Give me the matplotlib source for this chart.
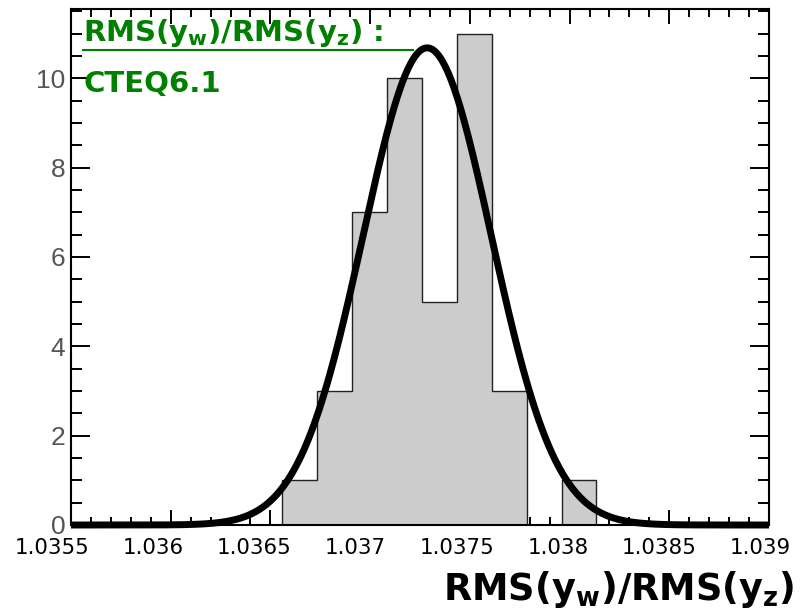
import matplotlib
matplotlib.use('Agg')
import matplotlib.pyplot as plt
import matplotlib.transforms as mtransforms
from matplotlib.ticker import MultipleLocator
import numpy as np

# histogram of the ratio
bin_edges = [1.03656, 1.036735, 1.03691, 1.037085, 1.03726, 1.037435,
             1.03761, 1.037785, 1.03796, 1.038135]
counts = [1, 3, 7, 10, 5, 11, 3, 0, 1]

# gaussian fit: amplitude, mean, sigma
fit_amp = 10.68
fit_mean = 1.037286
fit_sigma = 0.0003215

x_ticks = [1.0355, 1.036, 1.0365, 1.037, 1.0375, 1.038, 1.0385, 1.039]
x_ticklabels = ['1.0355', '1.036', '1.0365', '1.037', '1.0375', '1.038', '1.0385', '1.039']
y_ticks = [0, 2, 4, 6, 8, 10]

fig = plt.figure(figsize=(8.04, 6.12), dpi=100)
ax = fig.add_axes([71/804, 1 - 525/612, 698/804, 516/612])

# filled histogram + step outline (ROOT style)
ax.stairs(counts, bin_edges, fill=True, color='#cccccc', zorder=2)
ax.stairs(counts, bin_edges, baseline=0, color='#222222', lw=1.0, zorder=2.2)

xs = np.linspace(1.0355, 1.039, 600)
ax.plot(xs, fit_amp * np.exp(-0.5 * ((xs - fit_mean) / fit_sigma) ** 2),
        color='black', lw=5, solid_capstyle='butt', zorder=3, clip_on=False)

ax.set_xlim(1.0355, 1.039)
ax.set_ylim(0, 11.55)

ax.set_xticks(x_ticks)
ax.set_xticklabels(x_ticklabels)
ax.xaxis.set_minor_locator(MultipleLocator(0.0001))
ax.set_yticks(y_ticks)
ax.yaxis.set_minor_locator(MultipleLocator(0.5))

ax.tick_params(axis='x', which='both', direction='in', top=True, bottom=True,
               width=1.4, labelsize=15.4, pad=9, colors='black')
ax.tick_params(axis='x', which='major', length=11)
ax.tick_params(axis='x', which='minor', length=5.5)
ax.tick_params(axis='y', which='both', direction='in', left=True, right=True,
               width=1.4, pad=4, labelsize=19, labelcolor='#555555')
ax.tick_params(axis='y', which='major', length=13.7)
ax.tick_params(axis='y', which='minor', length=7.7)
for lab in ax.get_yticklabels():
    lab.set_family(['Liberation Sans', 'DejaVu Sans'])

# ROOT-like shifted x labels
for i, lab in enumerate(ax.get_xticklabels()):
    off = (-19 + 1.45 * i) / 100
    lab.set_transform(lab.get_transform() + mtransforms.ScaledTranslation(off, 0, fig.dpi_scale_trans))

for sp in ax.spines.values():
    sp.set_linewidth(1.5)

ax.set_xlabel(r'RMS(y$_{\mathbf{w}}$)/RMS(y$_{\mathbf{z}}$)', fontsize=26.5,
              fontweight='bold', ha='right', va='baseline')
ax.xaxis.set_label_coords(1.037, -0.1453)

ax.text(0.0172, 0.9386, r'RMS(y$_{\mathbf{w}}$)/RMS(y$_{\mathbf{z}}$) :', transform=ax.transAxes,
        color='#008000', fontsize=21, fontweight='bold', va='baseline', ha='left', zorder=5)
ax.plot([0.0172, 0.49], [0.9205, 0.9205], transform=ax.transAxes, color='#008000', lw=1.5, zorder=5)
ax.text(0.0172, 0.8397, 'CTEQ6.1', transform=ax.transAxes,
        color='#008000', fontsize=21, fontweight='bold', va='baseline', ha='left', zorder=5)

fig.savefig('out.png', dpi=100)
